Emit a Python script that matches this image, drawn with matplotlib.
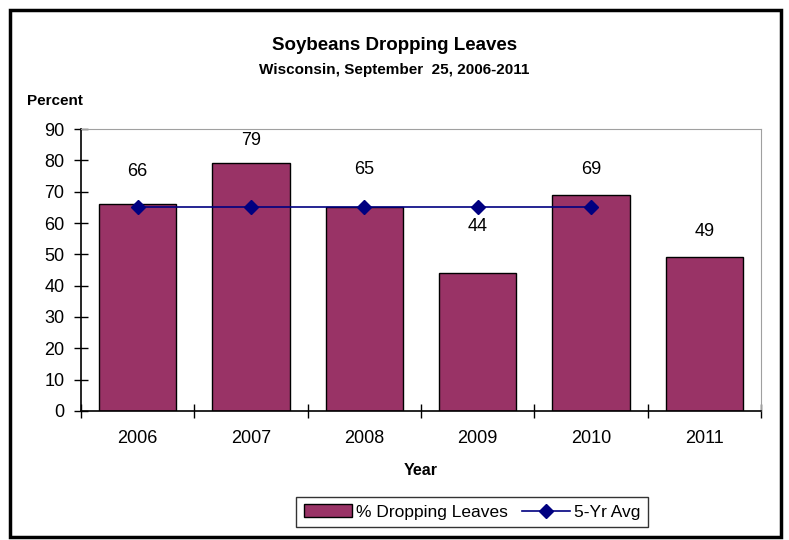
import numpy as np
import matplotlib
matplotlib.use("Agg")
import matplotlib.pyplot as plt
from matplotlib.patches import Rectangle

plt.rcParams["font.family"] = ["Liberation Sans", "DejaVu Sans"]

YEARS = ["2006", "2007", "2008", "2009", "2010", "2011"]
DROPPING = [66, 79, 65, 44, 69, 49]          # % dropping leaves
AVG_5YR = [65, 65, 65, 65, 65, np.nan]      # 5-year average, not drawn for 2011

# label offsets above each bar top, in pixels (labels were hand-placed around the line)
LABEL_OFFSET_PX = [24, 14, 29, 38, 17, 17]

DPI = 100
fig = plt.figure(figsize=(7.89, 5.40), dpi=DPI)
ax = fig.add_axes([0.1027, 0.2389, 0.8618, 0.5222])

x = np.arange(len(YEARS))
bars = ax.bar(x, DROPPING, width=0.68, color="#993366", edgecolor="black", linewidth=1.0,
              label="% Dropping Leaves", zorder=2)
line, = ax.plot(x, AVG_5YR, color="#000080", linewidth=1.2, marker="D", markersize=7,
                label="5-Yr Avg", zorder=3)

for xi, v, off in zip(x, DROPPING, LABEL_OFFSET_PX):
    ax.annotate(str(v), (xi, v), xytext=(0, off * 72 / DPI), textcoords="offset points",
                ha="center", va="bottom", fontsize=13)

ax.set_xlim(-0.5, len(YEARS) - 0.5)
ax.set_ylim(0, 90)
ax.set_yticks(range(0, 91, 10))
ax.tick_params(axis="y", direction="inout", length=10, width=1, labelsize=13, pad=7)
ax.set_xticks(x)
ax.set_xticklabels(YEARS)
ax.tick_params(axis="x", length=0, labelsize=13, pad=14)
ax.set_xticks(np.arange(-0.5, len(YEARS)), minor=True)
ax.tick_params(axis="x", which="minor", direction="inout", length=10, width=1)

for side in ("top", "right"):
    ax.spines[side].set_color("#a0a0a0")
for side in ("left", "bottom"):
    ax.spines[side].set_color("black")
    ax.spines[side].set_linewidth(1.2)

ax.set_xlabel("Year", fontsize=11.5, fontweight="bold", labelpad=11)

fig.text(0.5, 1 - 45 / 540, "Soybeans Dropping Leaves", ha="center", va="center",
         fontsize=13.5, fontweight="bold")
fig.text(0.5, 1 - 70 / 540, "Wisconsin, September  25, 2006-2011", ha="center", va="center",
         fontsize=11, fontweight="bold")
fig.text(27 / 789, 1 - 101 / 540, "Percent", ha="left", va="center",
         fontsize=11, fontweight="bold")

leg = fig.legend([bars, line], ["% Dropping Leaves", "5-Yr Avg"], loc="center",
                 bbox_to_anchor=(472 / 789, 1 - 512 / 540), ncol=2,
                 fontsize=12.5, frameon=True, fancybox=False, edgecolor="black",
                 handlelength=2.8, handletextpad=0.2, columnspacing=0.8,
                 borderpad=0.45)
leg.get_frame().set_linewidth(1.0)

# outer chart frame
fig.patches.append(Rectangle((10 / 789, 3 / 540), 771 / 789, 527 / 540,
                             transform=fig.transFigure, fill=False,
                             edgecolor="black", linewidth=2.5))

fig.savefig("out.png", dpi=DPI)
